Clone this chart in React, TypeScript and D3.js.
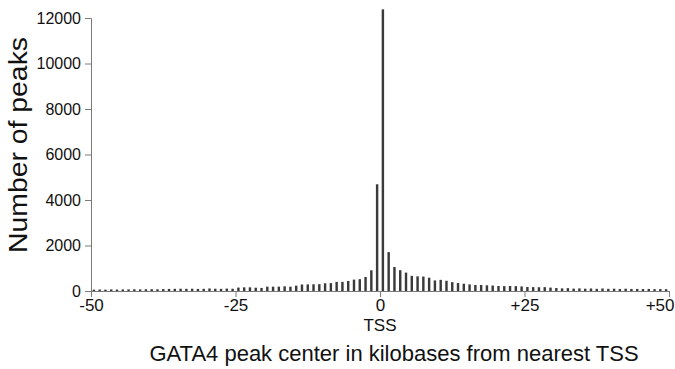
import React, { useEffect, useRef } from "react";
import * as d3 from "d3";

// bins of 1 kb, left edge of each bin
const binStarts = d3.range(-50, 50);

// peak counts per bin, upstream (-50..-1) then downstream (0..49)
const upstream = [
  60, 65, 60, 70, 65, 70, 70, 75, 70, 75,
  80, 75, 85, 90, 95, 100, 95, 100, 90, 95,
  110, 100, 95, 105, 100, 150, 160, 160, 145, 135,
  190, 190, 190, 205, 190, 235, 285, 290, 295, 300,
  340, 345, 400, 400, 440, 500, 520, 615, 910, 4690,
];
const downstream = [
  12380, 1710, 1055, 915, 810, 665, 645, 635, 585, 465,
  490, 450, 390, 350, 320, 290, 265, 265, 250, 240,
  220, 215, 220, 215, 200, 175, 170, 165, 170, 150,
  130, 115, 125, 105, 115, 100, 110, 95, 110, 95,
  100, 90, 100, 90, 90, 85, 90, 80, 85, 80,
];
const counts = [...upstream, ...downstream];

const yTicks = [0, 2000, 4000, 6000, 8000, 10000, 12000];
const xTicks = [-50, -25, 0, 25, 50];
const xTickLabels = ["-50", "-25", "0", "+25", "+50"];

const App = () => {
  const ref = useRef<SVGSVGElement | null>(null);

  useEffect(() => {
    const width = 675;
    const height = 369;
    const svg = d3.select(ref.current);
    svg.selectAll("*").remove();
    svg.attr("width", width).attr("height", height);

    const x = d3.scaleLinear().domain([-50, 50]).range([91, 669]);
    const y = d3.scaleLinear().domain([0, 12000]).range([291, 18]);
    const barW = (x(1) - x(0)) * 0.42;
    const axisColor = "#7a7a7a";
    const font = "Liberation Sans, Arial, sans-serif";

    svg
      .append("g")
      .selectAll("rect")
      .data(binStarts)
      .enter()
      .append("rect")
      .attr("x", (d) => x(d + 0.5) - barW / 2)
      .attr("width", barW)
      .attr("y", (d, i) => y(counts[i]))
      .attr("height", (d, i) => y(0) - y(counts[i]))
      .attr("fill", "#3a3a3a");

    const yAxis = svg
      .append("g")
      .attr("transform", "translate(" + x(-50) + ",0)")
      .call(
        d3
          .axisLeft(y)
          .tickValues(yTicks)
          .tickFormat(d3.format("d"))
          .tickSizeOuter(0)
          .tickSize(6)
          .tickPadding(4)
      );
    yAxis.select(".domain").attr("stroke", axisColor);
    yAxis.selectAll(".tick line").attr("stroke", axisColor);
    yAxis
      .selectAll(".tick text")
      .attr("fill", "#111")
      .style("font-family", font)
      .style("font-size", "16px");

    const xAxis = svg
      .append("g")
      .attr("transform", "translate(0," + y(0) + ")")
      .call(
        d3
          .axisBottom(x)
          .tickValues(xTicks)
          .tickFormat((d, i) => xTickLabels[i])
          .tickSizeOuter(0)
          .tickSize(6)
          .tickPadding(2)
      );
    xAxis.select(".domain").attr("stroke", axisColor);
    xAxis.selectAll(".tick line").attr("stroke", axisColor);
    xAxis
      .selectAll(".tick text")
      .attr("fill", "#111")
      .style("font-family", font)
      .style("font-size", "17px")
      .attr("text-anchor", (d, i) => (i === xTicks.length - 1 ? "end" : "middle"))
      .attr("dx", (d, i) => (i === xTicks.length - 1 ? 5 : 0));

    svg
      .append("text")
      .attr("x", x(0))
      .attr("y", 331)
      .attr("text-anchor", "middle")
      .attr("fill", "#111")
      .style("font-family", font)
      .style("font-size", "17px")
      .text("TSS");

    svg
      .append("text")
      .attr("x", 394)
      .attr("y", 361)
      .attr("text-anchor", "middle")
      .attr("fill", "#111")
      .style("font-family", font)
      .style("font-size", "22px")
      .text("GATA4 peak center in kilobases from nearest TSS");

    svg
      .append("text")
      .attr("transform", "translate(27,145) rotate(-90)")
      .attr("text-anchor", "middle")
      .attr("fill", "#111")
      .attr("textLength", 216)
      .attr("lengthAdjust", "spacingAndGlyphs")
      .style("font-family", font)
      .style("font-size", "25px")
      .text("Number of peaks");
  }, []);

  return (
    <div style={{ position: "absolute", left: 0, top: 0, background: "#fff" }}>
      <svg ref={ref}></svg>
    </div>
  );
};

export default App;
